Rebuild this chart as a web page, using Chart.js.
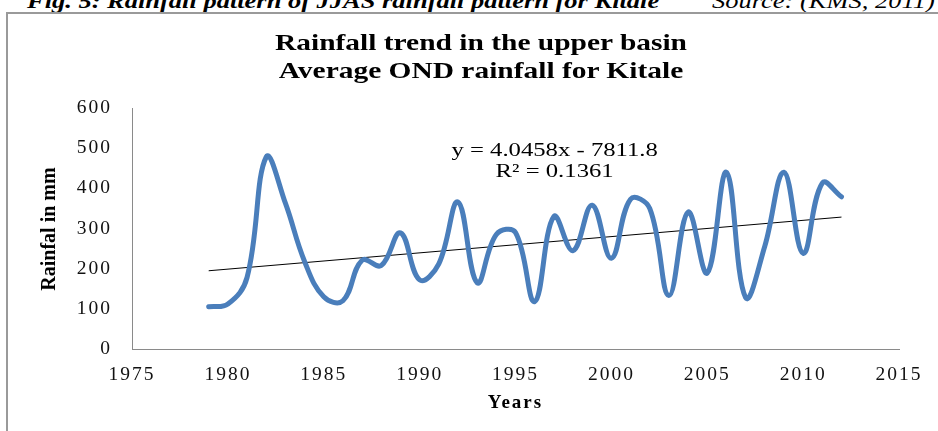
<!DOCTYPE html>
<html lang="en">
  <head>
    <meta charset="UTF-8" />
    <title>Rainfall trend in the upper basin - Kitale</title>
    <script src="https://cdn.jsdelivr.net/npm/chart.js@4"></script>
    <style>
      html, body { margin: 0; padding: 0; background: #fff; }
      body { width: 938px; height: 431px; position: relative; overflow: hidden; font-family: "Liberation Serif", "Times New Roman", serif; color: #000; }
      #frame { position: absolute; left: 6px; top: 12px; right: -10px; bottom: -10px; border-left: 2px solid #9a9a9a; border-top: 2px solid #9a9a9a; }
      #chart { position: absolute; left: 0; top: 0; }
      .txt { position: absolute; white-space: nowrap; }
      #caption { left: 27px; top: -9px; font-size: 21px; line-height: 21px; font-weight: bold; font-style: italic; transform: scaleX(1.26); transform-origin: left center; }
      #source { right: 3px; top: -9px; font-size: 21px; line-height: 21px; font-style: italic; transform: scaleX(1.26); transform-origin: right center; }
      .title { left: 0; width: 962px; text-align: center; font-size: 23px; line-height: 28px; font-weight: bold; transform: scaleX(1.28); transform-origin: 481px center; }
      #eq { left: 0; width: 1109px; top: 140px; text-align: center; font-size: 19px; line-height: 20.5px; transform: scaleX(1.3); transform-origin: 554px center; }
      #ytitle { left: -52px; top: 217px; width: 200px; height: 24px; line-height: 24px; text-align: center; font-size: 20px; font-weight: bold; transform: rotate(-90deg); }
    </style>
  </head>
  <body>
    <div class="txt" id="caption">Fig. 5: Rainfall pattern of JJAS rainfall pattern for Kitale</div>
    <div class="txt" id="source">Source: (KMS, 2011)</div>
    <div id="frame"></div>
    <canvas id="chart" width="938" height="431"></canvas>
    <div class="txt title" style="top:28.6px">Rainfall trend in the upper basin</div>
    <div class="txt title" style="top:56.6px">Average OND rainfall for Kitale</div>
    <div class="txt" id="eq">y = 4.0458x - 7811.8<br>R² = 0.1361</div>
    <div class="txt" id="ytitle">Rainfal in mm</div>

    <script>
      // valeurs
      const years = [1979, 1980, 1981, 1982, 1983, 1984, 1985, 1986, 1987, 1988,
                     1989, 1990, 1991, 1992, 1993, 1994, 1995, 1996, 1997, 1998,
                     1999, 2000, 2001, 2002, 2003, 2004, 2005, 2006, 2007, 2008,
                     2009, 2010, 2011, 2012];
      const rainfall = [105, 112, 178, 478, 363, 218, 130, 120, 221, 208,
                        289, 172, 212, 366, 165, 285, 290, 118, 330, 245,
                        358, 226, 373, 350, 133, 341, 189, 440, 128, 256,
                        440, 238, 413, 379];
      // droite de tendance (y = 4.0458x - 7811.8) aux deux extrémités
      const trendYears = [1979, 2012];
      const trendValues = [194.8, 328.4];
      const xTickLabels = [1975, 1980, 1985, 1990, 1995, 2000, 2005, 2010, 2015];
      const yTickLabels = [0, 100, 200, 300, 400, 500, 600];

      const serif = "'Liberation Serif', 'Times New Roman', serif";
      const stretch = {
        id: "stretch",
        beforeLayout(c) { c.ctx.letterSpacing = "2px"; },
        beforeDraw(c) { c.ctx.letterSpacing = "2px"; }
      };

      new Chart(document.getElementById("chart"), {
        type: "line",
        data: {
          datasets: [
            {
              label: "Rainfall",
              data: years.map((y, i) => ({ x: y, y: rainfall[i] })),
              borderColor: "#4a7ebb",
              borderWidth: 5,
              borderCapStyle: "round",
              borderJoinStyle: "round",
              pointRadius: 0,
              tension: 0.4,
              fill: false
            },
            {
              label: "Trend",
              data: trendYears.map((y, i) => ({ x: y, y: trendValues[i] })),
              borderColor: "#000",
              borderWidth: 1,
              pointRadius: 0,
              tension: 0
            }
          ]
        },
        options: {
          responsive: false,
          animation: false,
          layout: { padding: { left: 0, right: 39, top: 108, bottom: 0 } },
          plugins: { legend: { display: false }, tooltip: { enabled: false }, title: { display: false } },
          scales: {
            x: {
              type: "linear",
              min: xTickLabels[0],
              max: xTickLabels[xTickLabels.length - 1],
              afterBuildTicks: s => { s.ticks = xTickLabels.map(v => ({ value: v })); },
              afterFit: s => { s.height = 82; },
              grid: { display: false, drawTicks: false },
              border: { display: true, color: "#8a8a8a", width: 1 },
              ticks: { color: "#111", padding: 14, maxRotation: 0, font: { family: serif, size: 19.5 }, callback: v => String(v) },
              title: { display: true, text: "Years", color: "#000", padding: 17, font: { family: serif, size: 19, weight: "bold" } }
            },
            y: {
              min: 0,
              max: 600,
              afterBuildTicks: s => { s.ticks = yTickLabels.map(v => ({ value: v })); },
              afterFit: s => { s.width = 132; },
              grid: { display: false, drawTicks: false },
              border: { display: true, color: "#8a8a8a", width: 1 },
              ticks: { color: "#111", padding: 20, font: { family: serif, size: 19.5 }, callback: v => String(v) }
            }
          }
        },
        plugins: [stretch]
      });
    </script>
  </body>
</html>
